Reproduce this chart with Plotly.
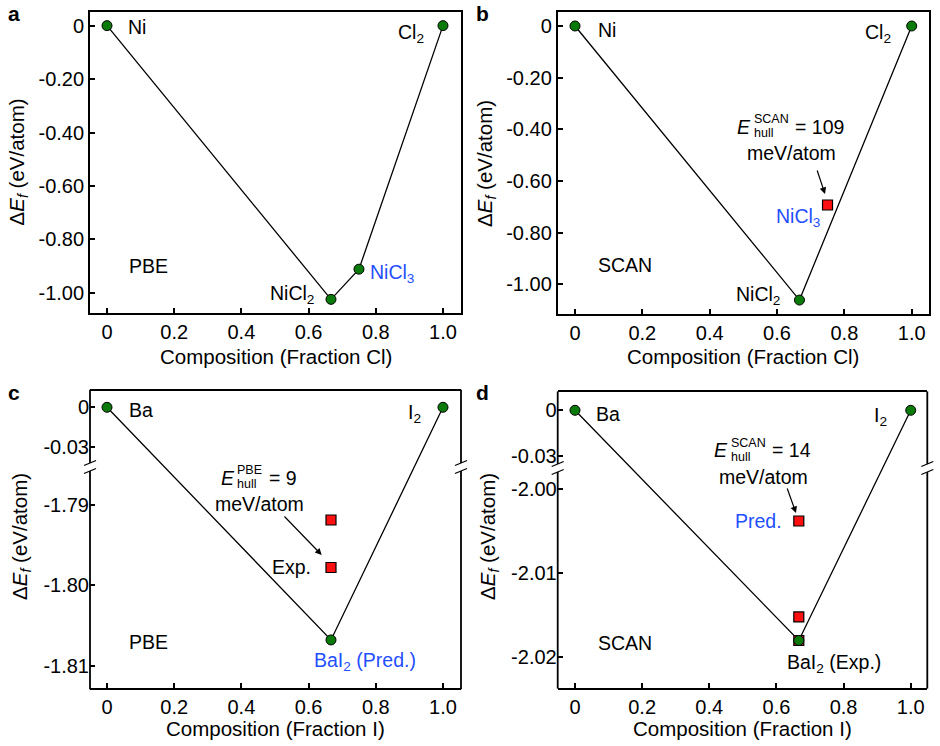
import plotly.graph_objects as go

# ---------------- data ----------------
x_ticks = [0, 0.2, 0.4, 0.6, 0.8, 1.0]
x_ticktext = ["0", "0.2", "0.4", "0.6", "0.8", "1.0"]

# panel a (PBE, Ni-Cl)
a_hull_x = [0, 2 / 3, 0.75, 1.0]
a_hull_y = [0, -1.024, -0.911, 0]
a_yticks = [0, -0.2, -0.4, -0.6, -0.8, -1.0]
a_yticktext = ["0", "-0.20", "-0.40", "-0.60", "-0.80", "-1.00"]

# panel b (SCAN, Ni-Cl)
b_hull_x = [0, 2 / 3, 1.0]
b_hull_y = [0, -1.061, 0]
b_off_x = [0.75]
b_off_y = [-0.693]

# panel c (PBE, Ba-I)
c_hull_x = [0, 2 / 3, 1.0]
c_hull_y = [0, -1.8068, 0]
c_off_x = [2 / 3, 2 / 3]
c_off_y = [-1.7919, -1.7978]
c_yticks = [0, -0.03, -1.79, -1.80, -1.81]
c_yticktext = ["0", "-0.03", "-1.79", "-1.80", "-1.81"]

# panel d (SCAN, Ba-I)
d_hull_x = [0, 2 / 3, 1.0]
d_hull_y = [0, -2.018, 0]
d_off_x = [2 / 3, 2 / 3, 2 / 3]
d_off_y = [-2.0038, -2.0152, -2.018]
d_yticks = [0, -0.03, -2.00, -2.01, -2.02]
d_yticktext = ["0", "-0.03", "-2.00", "-2.01", "-2.02"]

# ---------------- layout helpers ----------------
W, H = 940, 746
FONT = "Liberation Sans, Arial, Helvetica, sans-serif"
GREEN = "#0a7a0a"
RED = "#ff1010"
BLUE = "#1f4fff"
TICK_SIZE = 20
LABEL_SIZE = 19.5
TITLE_SIZE = 20.5


def PX(x):
    return x / W


def PY(y):
    return 1 - y / H


# broken-axis config: (top segment range, its u-span), (lower segment range, its u-span)
c_brk = dict(top=(-0.04178, 0.01245), top_u=(0.7571, 1.0), low=(-1.81281, -1.78581), low_u=(0.0, 0.7302))
d_brk = dict(top=(-0.03525, 0.01182), top_u=(0.7573, 1.0), low=(-2.02361, -1.99798), low_u=(0.0, 0.7302))


def brk(v, cfg):
    if v > -1.0:
        lo, hi = cfg["top"]
        u0, u1 = cfg["top_u"]
    else:
        lo, hi = cfg["low"]
        u0, u1 = cfg["low_u"]
    return u0 + (v - lo) / (hi - lo) * (u1 - u0)


fig = go.Figure()


def add_panel(n, xs, ys, offx=None, offy=None, tf=None):
    xa = "x" if n == 1 else f"x{n}"
    ya = "y" if n == 1 else f"y{n}"
    f = (lambda v: v) if tf is None else tf
    fig.add_trace(go.Scatter(x=xs, y=[f(v) for v in ys], mode="lines",
                             line=dict(color="black", width=1.3),
                             xaxis=xa, yaxis=ya, showlegend=False, hoverinfo="skip"))
    if offx:
        fig.add_trace(go.Scatter(x=offx, y=[f(v) for v in offy], mode="markers",
                                 marker=dict(symbol="square", size=10, color=RED,
                                             line=dict(color="black", width=1.2)),
                                 xaxis=xa, yaxis=ya, showlegend=False, hoverinfo="skip"))
    fig.add_trace(go.Scatter(x=xs, y=[f(v) for v in ys], mode="markers",
                             marker=dict(symbol="circle", size=10, color=GREEN,
                                         line=dict(color="black", width=1)),
                             xaxis=xa, yaxis=ya, showlegend=False, hoverinfo="skip"))


add_panel(1, a_hull_x, a_hull_y)
add_panel(2, b_hull_x, b_hull_y, b_off_x, b_off_y)
add_panel(3, c_hull_x, c_hull_y, c_off_x, c_off_y, tf=lambda v: brk(v, c_brk))
add_panel(4, d_hull_x, d_hull_y, d_off_x, d_off_y, tf=lambda v: brk(v, d_brk))

# panel boxes (pixels)
boxes = {
    1: (90, 461, 12, 313),
    2: (557.7, 929, 12.3, 314),
    3: (90, 461, 390.7, 688.3),
    4: (557.7, 927.3, 392.3, 687.7),
}
xranges = {1: [-0.0506, 1.0536], 2: [-0.0514, 1.0514], 3: [-0.0506, 1.0536], 4: [-0.0515, 1.0494]}

axis_common = dict(ticks="inside", ticklen=5, tickwidth=1.5, tickcolor="black",
                   showgrid=False, zeroline=False,
                   tickfont=dict(family=FONT, size=TICK_SIZE, color="black"))

layout = dict(width=W, height=H, margin=dict(l=0, r=0, t=0, b=0),
              paper_bgcolor="white", plot_bgcolor="white", showlegend=False)

for n, (x0, x1, y0, y1) in boxes.items():
    xk = "xaxis" if n == 1 else f"xaxis{n}"
    yk = "yaxis" if n == 1 else f"yaxis{n}"
    xa = "x" if n == 1 else f"x{n}"
    ya = "y" if n == 1 else f"y{n}"
    layout[xk] = dict(domain=[PX(x0), PX(x1)], anchor=ya, range=xranges[n],
                      tickvals=x_ticks, ticktext=x_ticktext,
                      showline=True, mirror=True, linecolor="black", linewidth=1.8,
                      **axis_common)
    if n in (1, 2):
        yr = [-1.075, 0.051] if n == 1 else [-1.115, 0.053]
        layout[yk] = dict(domain=[PY(y1), PY(y0)], anchor=xa, range=yr,
                          tickvals=a_yticks, ticktext=a_yticktext,
                          showline=True, mirror=True, linecolor="black", linewidth=1.8,
                          **axis_common)
    else:
        cfg = c_brk if n == 3 else d_brk
        tv = c_yticks if n == 3 else d_yticks
        tt = c_yticktext if n == 3 else d_yticktext
        layout[yk] = dict(domain=[PY(y1), PY(y0)], anchor=xa, range=[0, 1],
                          tickvals=[brk(v, cfg) for v in tv], ticktext=tt,
                          showline=False, **axis_common)

fig.update_layout(**layout)

# broken spines for c and d
shapes = []
for n in (3, 4):
    x0, x1, y0, y1 = boxes[n]
    cfg = c_brk if n == 3 else d_brk
    hgt = y1 - y0
    top_end = y1 - cfg["top_u"][0] * hgt
    low_start = y1 - cfg["low_u"][1] * hgt
    for xs in (x0, x1):
        shapes.append(dict(type="line", xref="paper", yref="paper",
                           x0=PX(xs), x1=PX(xs), y0=PY(y0 - 0.9), y1=PY(top_end),
                           line=dict(color="black", width=1.8)))
        shapes.append(dict(type="line", xref="paper", yref="paper",
                           x0=PX(xs), x1=PX(xs), y0=PY(low_start), y1=PY(y1 + 0.9),
                           line=dict(color="black", width=1.8)))
        for yy in (top_end, low_start):
            shapes.append(dict(type="line", xref="paper", yref="paper",
                               x0=PX(xs - 6), x1=PX(xs + 6), y0=PY(yy + 2.5), y1=PY(yy - 2.5),
                               line=dict(color="black", width=1.3)))
fig.update_layout(shapes=shapes)

ann = []


def txt(text, x, y, xanchor="left", yanchor="middle", size=LABEL_SIZE, color="black", **kw):
    ann.append(dict(text=text, x=PX(x), y=PY(y), xref="paper", yref="paper",
                    xanchor=xanchor, yanchor=yanchor, showarrow=False,
                    font=dict(family=FONT, size=size, color=color), **kw))


def ptxt(n, text, x, y, xshift, yshift, xanchor="left", color="black", tf=None):
    xa = "x" if n == 1 else f"x{n}"
    ya = "y" if n == 1 else f"y{n}"
    yy = y if tf is None else tf(y)
    ann.append(dict(text=text, x=x, y=yy, xref=xa, yref=ya, xshift=xshift, yshift=yshift,
                    xanchor=xanchor, yanchor="middle", showarrow=False,
                    font=dict(family=FONT, size=LABEL_SIZE, color=color)))


def ehull(e_right, yc, sup):
    txt("<i>E</i>", e_right, yc, xanchor="right")
    txt(sup, e_right - 1.5, yc - 7.5, size=12.5)
    txt("hull", e_right - 1.5, yc + 6.5, size=12.5)


# panel letters
for L, (x, y) in zip("abcd", [(6, 13), (474, 13), (6, 392), (474, 392)]):
    txt(f"<b>{L}</b>", x, y, size=21)

# axis titles
ytitle = "Δ<i>E</i><sub><i>f</i></sub> (eV/atom)"
for x, y in [(18, 162.5), (486, 164), (21, 537), (489, 537)]:
    txt(ytitle, x, y, xanchor="center", size=TITLE_SIZE, textangle=-90)
for t, x, y in [("Composition (Fraction Cl)", 275.5, 356), ("Composition (Fraction Cl)", 743.3, 356),
                ("Composition (Fraction I)", 275.5, 728.5), ("Composition (Fraction I)", 742, 728.5)]:
    txt(t, x, y, xanchor="center", size=TITLE_SIZE)

# panel a labels
ptxt(1, "Ni", a_hull_x[0], a_hull_y[0], 19, -1)
ptxt(1, "Cl<sub>2</sub>", a_hull_x[3], a_hull_y[3], -17, -8, xanchor="right")
ptxt(1, "NiCl<sub>2</sub>", a_hull_x[1], a_hull_y[1], -15, 5, xanchor="right")
ptxt(1, "NiCl<sub>3</sub>", a_hull_x[2], a_hull_y[2], 9, -4, color=BLUE)
txt("PBE", 127, 266)

# panel b labels
ptxt(2, "Ni", b_hull_x[0], b_hull_y[0], 21, -4)
ptxt(2, "Cl<sub>2</sub>", b_hull_x[2], b_hull_y[2], -19, -8, xanchor="right")
ptxt(2, "NiCl<sub>2</sub>", b_hull_x[1], b_hull_y[1], -17, 5, xanchor="right")
ptxt(2, "NiCl<sub>3</sub>", b_off_x[0], b_off_y[0], -6, -12, xanchor="right", color=BLUE)
txt("SCAN", 596, 265)
ehull(753, 126.7, "SCAN")
txt("= 109", 793, 126.7)
txt("meV/atom", 791, 153.3, xanchor="center")

# panel c labels
tc = lambda v: brk(v, c_brk)
ptxt(3, "Ba", c_hull_x[0], c_hull_y[0], 20, -3, tf=tc)
ptxt(3, "I<sub>2</sub>", c_hull_x[2], c_hull_y[2], -20, -6, xanchor="right", tf=tc)
ptxt(3, "BaI<sub>2</sub> (Pred.)", c_hull_x[1], c_hull_y[1], -19, -22, color=BLUE, tf=tc)
ptxt(3, "Exp.", c_off_x[1], c_off_y[1], -18, 0, xanchor="right", tf=tc)
txt("PBE", 127, 642)
ehull(236.5, 477.5, "PBE")
txt("= 9", 266.5, 477.5)
txt("meV/atom", 259.3, 504, xanchor="center")

# panel d labels
td = lambda v: brk(v, d_brk)
ptxt(4, "Ba", d_hull_x[0], d_hull_y[0], 19, -4, tf=td)
ptxt(4, "I<sub>2</sub>", d_hull_x[2], d_hull_y[2], -22, -6, xanchor="right", tf=td)
ptxt(4, "BaI<sub>2</sub> (Exp.)", d_hull_x[1], d_hull_y[1], -14, -23, tf=td)
ptxt(4, "Pred.", d_off_x[0], d_off_y[0], -15, 0, xanchor="right", color=BLUE, tf=td)
txt("SCAN", 596, 643)
ehull(730, 450, "SCAN")
txt("= 14", 770, 450)
txt("meV/atom", 763.7, 477, xanchor="center")

# arrows (head position, tail offset in pixels)
for hx, hy, tx, ty in [(825, 194, 816.7, 169), (321.7, 555, 283, 515), (796, 513, 786.7, 487)]:
    ann.append(dict(text="", x=PX(hx), y=PY(hy), xref="paper", yref="paper",
                    axref="pixel", ayref="pixel", ax=tx - hx, ay=ty - hy,
                    showarrow=True, arrowhead=2, arrowsize=1.1, arrowwidth=1.2,
                    arrowcolor="black"))

fig.update_layout(annotations=ann)
fig.write_html("out.html")
